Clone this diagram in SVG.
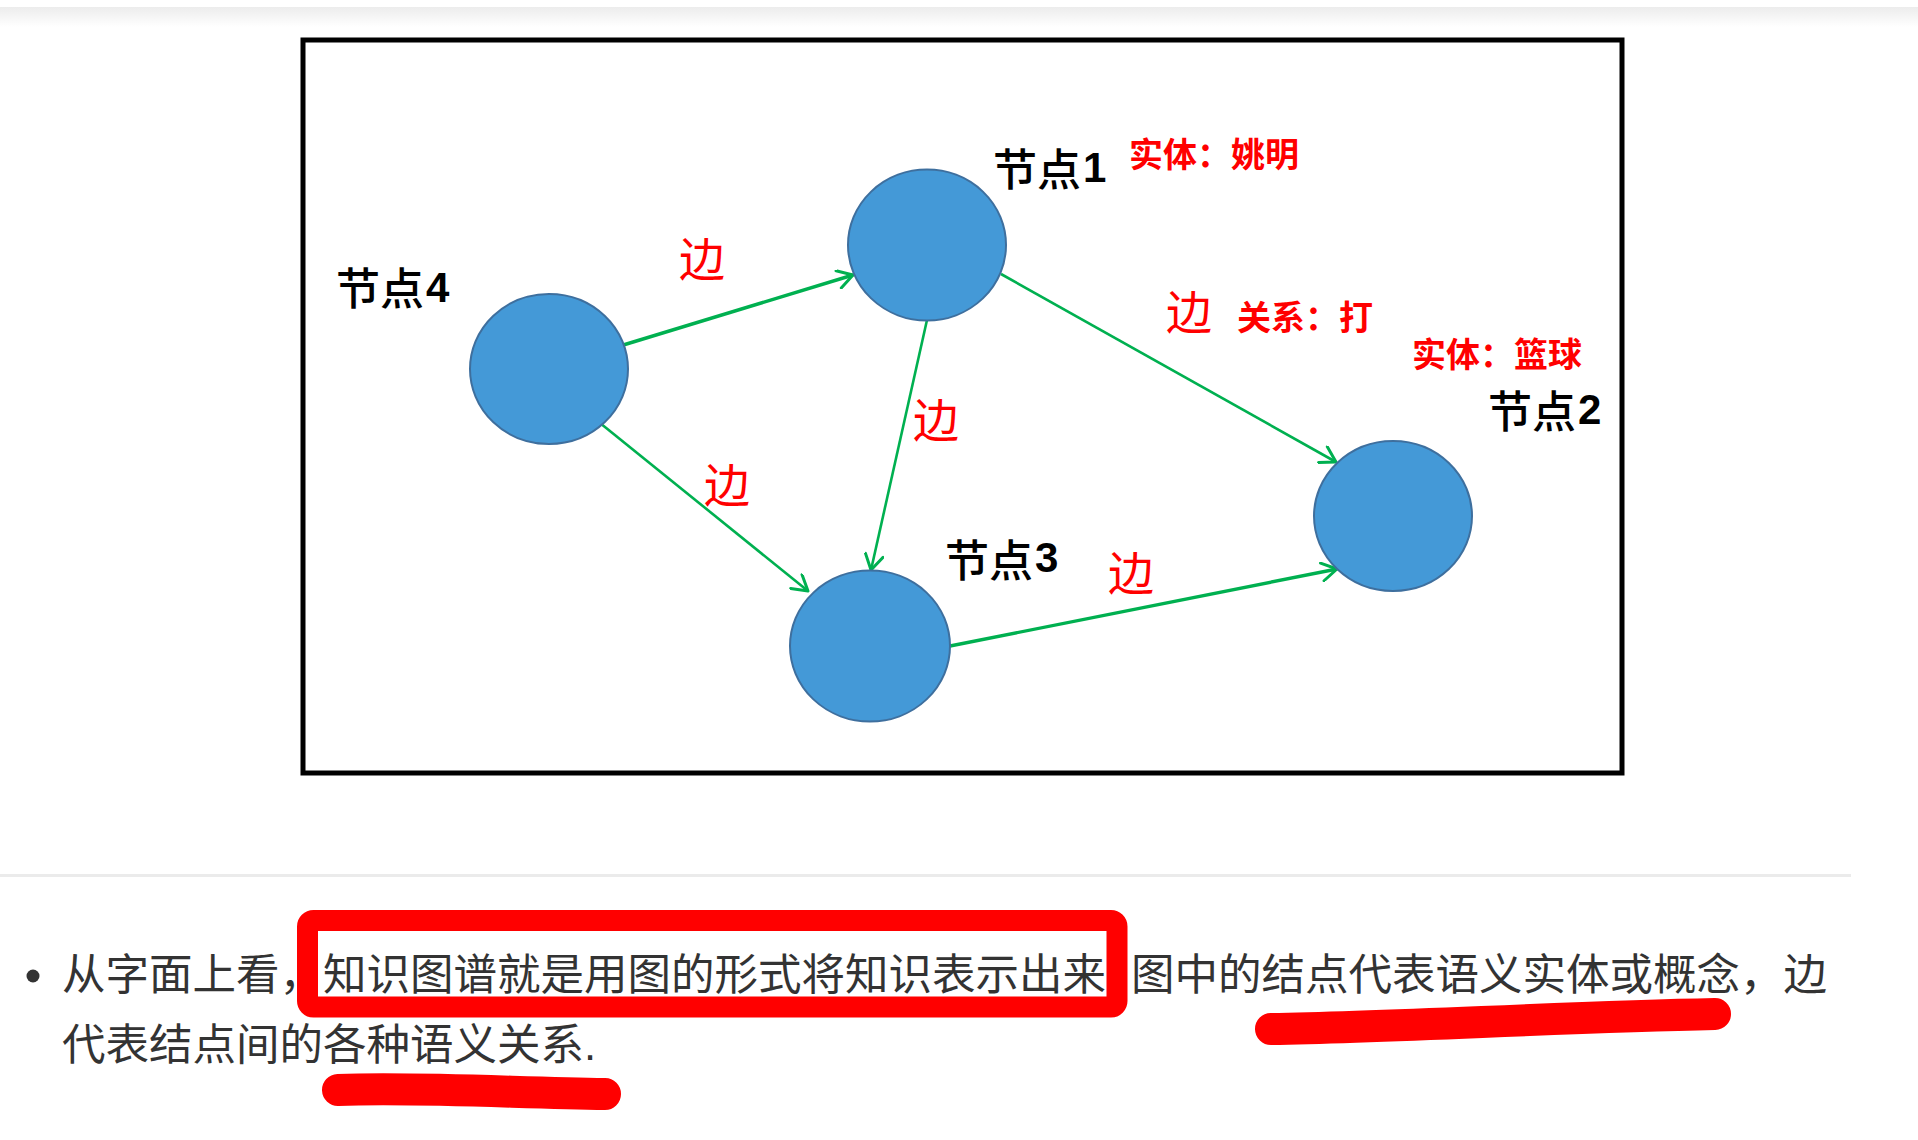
<svg xmlns="http://www.w3.org/2000/svg" width="1918" height="1140" viewBox="0 0 1918 1140">
<defs>
<linearGradient id="topShade" x1="0" y1="0" x2="0" y2="1">
<stop offset="0" stop-color="#ececec"/>
<stop offset="1" stop-color="#ffffff"/>
</linearGradient>
<marker id="arrow" markerUnits="userSpaceOnUse" markerWidth="20" markerHeight="20" viewBox="0 0 20 20" refX="18" refY="10" orient="auto">
<path d="M3,1 L18,10 L3,19" fill="none" stroke="#00b050" stroke-width="3" stroke-linecap="round" stroke-linejoin="round"/>
</marker>
<style>
.node{fill:#4499d7;stroke:#3e6f9e;stroke-width:2}
.edge{fill:none;stroke:#00b050;stroke-width:2.6;marker-end:url(#arrow)}
.edge.thick{stroke-width:3.4}
.lbl{font-family:"Liberation Sans","Noto Sans CJK SC",sans-serif;font-size:44px;fill:#000;font-weight:500}
.num{font-family:"Liberation Sans",Arial,sans-serif;font-size:42px;font-weight:bold}
.red{font-family:"Liberation Sans","Noto Sans CJK SC",sans-serif;font-size:34px;fill:#ff0000;font-weight:bold}
.bian{font-family:"Liberation Sans","Noto Sans CJK SC",sans-serif;font-size:46px;fill:#ff0000}
.body{font-family:"Liberation Sans","Noto Sans CJK SC",sans-serif;font-size:43.5px;fill:#333333}
.mark{fill:none;stroke:#ff0000;stroke-linecap:round;stroke-linejoin:round}
</style>
</defs>
<rect x="0" y="0" width="1918" height="1140" fill="#ffffff"/>
<rect x="0" y="7" width="1918" height="20" fill="url(#topShade)"/>
<rect id="frame" x="303" y="40" width="1319" height="733" fill="#ffffff" stroke="#000000" stroke-width="5"/>

<g id="connectors">
<line id="e41" class="edge thick" x1="620" y1="346" x2="853" y2="275"/>
<line id="e43" class="edge" x1="600" y1="423" x2="808" y2="591"/>
<line id="e13" class="edge" x1="927" y1="320" x2="871" y2="570"/>
<line id="e12" class="edge" x1="1001" y1="274" x2="1336" y2="462"/>
<line id="e32" class="edge thick" x1="950" y1="646" x2="1337" y2="569"/>
<text class="bian" x="679" y="276">边</text>
<text class="bian" x="913" y="437">边</text>
<text class="bian" x="704" y="502">边</text>
<text class="bian" x="1108" y="590">边</text>
<text class="bian" x="1166" y="329">边</text>
<text class="red" x="1237" y="330">关系：打</text>
</g>

<g id="node1">
<ellipse class="node" cx="927" cy="245" rx="79" ry="75.5"/>
<text class="lbl" x="993" y="186">节点<tspan class="num" dx="2" dy="-4">1</tspan></text>
<text class="red" x="1129" y="167">实体：姚明</text>
</g>
<g id="node2">
<ellipse class="node" cx="1393" cy="516" rx="79" ry="75"/>
<text class="lbl" x="1488" y="428">节点<tspan class="num" dx="2" dy="-4">2</tspan></text>
<text class="red" x="1412" y="367">实体：篮球</text>
</g>
<g id="node3">
<ellipse class="node" cx="870" cy="646" rx="80" ry="75.5"/>
<text class="lbl" x="945" y="577">节点<tspan class="num" dx="2" dy="-5">3</tspan></text>
</g>
<g id="node4">
<ellipse class="node" cx="549" cy="369" rx="79" ry="75"/>
<text class="lbl" x="336" y="305">节点<tspan class="num" dx="2" dy="-3">4</tspan></text>
</g>

<rect id="separator" x="0" y="874" width="1851" height="3" fill="#ebebeb"/>

<g id="caption">
<circle cx="33" cy="976" r="6.5" fill="#333333"/>
<text class="body" y="990"><tspan x="62">从字面上看，知识图谱就是用图的形式将知识表示出来</tspan><tspan x="1131">图中的结点代表语义实体或概念，边</tspan></text>
<text class="body" x="62" y="1060">代表结点间的各种语义关系.</text>
<rect class="mark" x="307.5" y="920.5" width="809.5" height="86.5" rx="6" stroke-width="21"/>
<path class="mark" d="M338,1090 C420,1087 520,1093 605,1094" stroke-width="32"/>
<path class="mark" d="M1271,1029 C1400,1027 1560,1017 1715,1014" stroke-width="32"/>
</g>
</svg>
